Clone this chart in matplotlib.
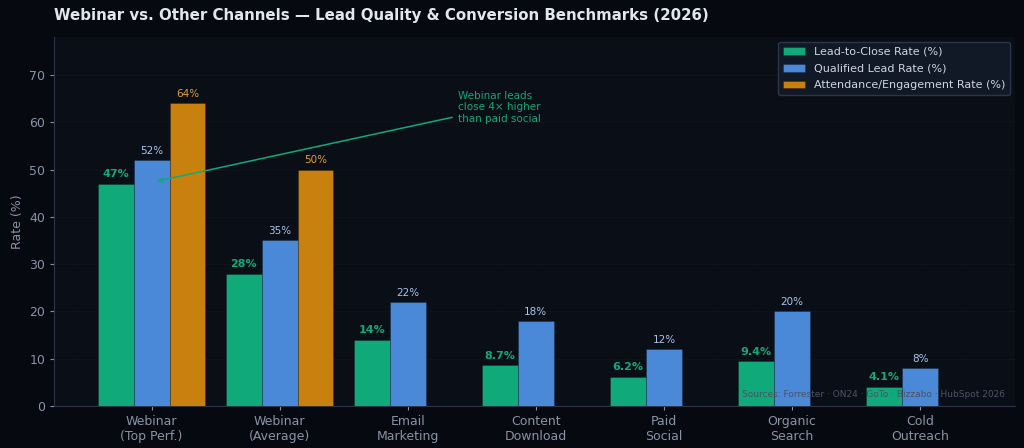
import matplotlib
matplotlib.use("Agg")
import matplotlib.pyplot as plt
import numpy as np

categories = ["Webinar\n(Top Perf.)", "Webinar\n(Average)", "Email\nMarketing", "Content\nDownload",
              "Paid\nSocial", "Organic\nSearch", "Cold\nOutreach"]
lead_to_close = [47, 28, 14, 8.7, 6.2, 9.4, 4.1]
qualified_lead = [52, 35, 22, 18, 12, 20, 8]
attendance = [64, 50]
close_labels = ["47%", "28%", "14%", "8.7%", "6.2%", "9.4%", "4.1%"]

FIG_BG = "#060910"
AX_BG = "#0a0e17"
GREEN = "#10a97a"
BLUE = "#4a88d8"
ORANGE = "#c8800e"
TICK = "#8893a6"

fig = plt.figure(figsize=(10.24, 4.48), dpi=100, facecolor=FIG_BG)
ax = fig.add_axes([0.053, 0.094, 0.938, 0.823], facecolor=AX_BG)

x = np.arange(len(categories))
w = 0.28
ekw = dict(edgecolor=(0, 0, 0, 0.3), linewidth=0.5, zorder=3)
ax.bar(x - w, lead_to_close, w, color=GREEN, label="Lead-to-Close Rate (%)", **ekw)
ax.bar(x, qualified_lead, w, color=BLUE, label="Qualified Lead Rate (%)", **ekw)
xa = x[:len(attendance)]
ax.bar(xa + w, attendance, w, color=ORANGE, label="Attendance/Engagement Rate (%)", **ekw)

for xi, v, lab in zip(x - w, lead_to_close, close_labels):
    ax.text(xi, v + 0.9, lab, ha="center", va="bottom", color=GREEN, fontsize=8,
            fontweight="bold", zorder=4)
for xi, v in zip(x, qualified_lead):
    ax.text(xi, v + 0.9, f"{v:g}%", ha="center", va="bottom", color="#a8c6ec", fontsize=7.5, zorder=4)
for xi, v in zip(xa + w, attendance):
    ax.text(xi, v + 0.9, f"{v:g}%", ha="center", va="bottom", color="#e0a030", fontsize=7.5, zorder=4)

ax.annotate("Webinar leads\nclose 4× higher\nthan paid social", xy=(0.02, 47.4), xytext=(2.39, 63.2),
            ha="left", va="center", color=GREEN, fontsize=7.5,
            arrowprops=dict(arrowstyle="->", color=GREEN, lw=1.1), zorder=5)

ax.set_xlim(-0.76, 6.74)
ax.set_ylim(0, 78)
ax.set_yticks(range(0, 71, 10))
ax.set_xticks(x)
ax.set_xticklabels(categories)
ax.tick_params(colors=TICK, labelsize=9, length=3)
for t in ax.get_xticklabels() + ax.get_yticklabels():
    t.set_color(TICK)
ax.set_ylabel("Rate (%)", color=TICK, fontsize=9)
ax.grid(axis="y", color="#121722", lw=0.6, ls="--", zorder=0)
for s in ["top", "right"]:
    ax.spines[s].set_visible(False)
for s in ["left", "bottom"]:
    ax.spines[s].set_color("#2c3446")

ax.legend(loc="upper right", fontsize=8, facecolor="#111826", edgecolor="#2c3648",
          labelcolor="#d0d6e0", framealpha=1.0, labelspacing=0.62, borderaxespad=0.45)

ax.text(0.99, 0.02, "Sources: Forrester · ON24 · GoTo · Bizzabo · HubSpot 2026", transform=ax.transAxes,
        ha="right", va="bottom", color="#4a5466", fontsize=6.5, zorder=6)

fig.text(0.053, 0.965, "Webinar vs. Other Channels — Lead Quality & Conversion Benchmarks (2026)",
         ha="left", va="center", color="#e2e6ee", fontsize=10.85, fontweight="bold")

fig.savefig("out.png", dpi=100, facecolor=FIG_BG)
